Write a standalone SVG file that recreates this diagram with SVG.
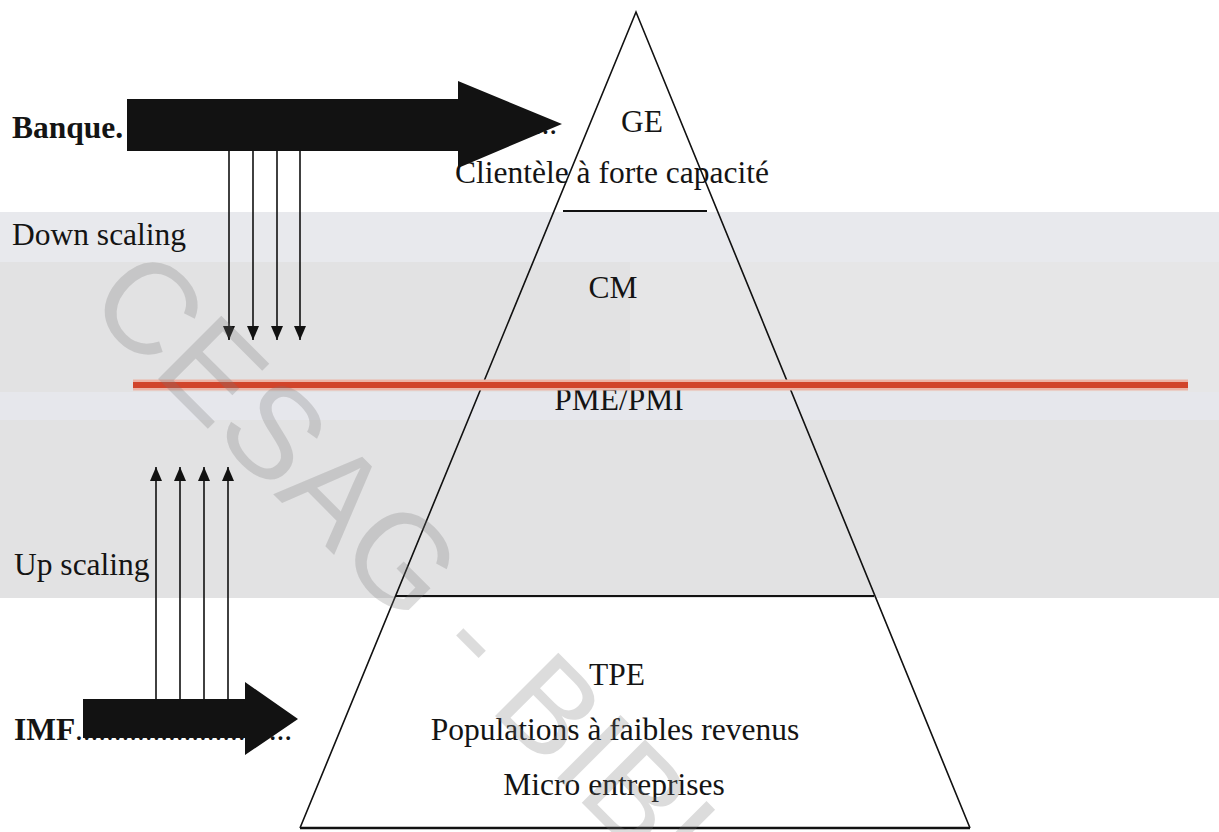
<svg xmlns="http://www.w3.org/2000/svg" width="1219" height="832" viewBox="0 0 1219 832">
<style>
.t{font-family:"Liberation Serif","Times New Roman",serif;font-size:31.5px;fill:#141414}
.b{font-weight:bold}
.thin{stroke:#111;stroke-width:1.6;fill:none}
.edge{stroke:#111;stroke-width:1.6;fill:none}
.big{fill:#121212}
.wm{font-family:"Liberation Sans",Arial,sans-serif;font-size:130px;fill:#787878;fill-opacity:0.26}
</style>
<defs>
<marker id="ah" viewBox="0 0 14 12" refX="14" refY="6" markerWidth="14" markerHeight="12" markerUnits="userSpaceOnUse" orient="auto">
<path d="M0,0 L14,6 L0,12 z" fill="#111"/>
</marker>
</defs>
<rect width="1219" height="832" fill="#ffffff"/>
<g id="band">
<rect x="0" y="212" width="1219" height="386" fill="#e2e2e3"/>
<rect x="0" y="212" width="1219" height="50" fill="#e8e9ed"/>
<rect x="630" y="262" width="589" height="130" fill="#e6e6e7"/>
<rect x="0" y="392" width="1219" height="28" fill="#e6e7ec"/>
</g>
<g id="pyramid">
<path class="edge" d="M300,828 L636,12 L970,828"/>
<line x1="300" y1="828" x2="970" y2="828" stroke="#111" stroke-width="2.6"/>
<line x1="563" y1="211" x2="707" y2="211" stroke="#111" stroke-width="1.8"/>
<line x1="396" y1="596" x2="874" y2="596" stroke="#111" stroke-width="1.8"/>
</g>
<g id="level-ge">
<text class="t" x="642" y="132" text-anchor="middle">GE</text>
<text class="t" x="612" y="183" text-anchor="middle">Clientèle à forte capacité</text>
</g>
<g id="level-cm">
<text class="t" x="613" y="298" text-anchor="middle">CM</text>
</g>
<g id="level-pme">
<text class="t" x="619" y="410" text-anchor="middle">PME/PMI</text>
</g>
<g id="level-tpe">
<text class="t" x="617" y="685" text-anchor="middle">TPE</text>
<text class="t" x="615" y="740" text-anchor="middle">Populations à faibles revenus</text>
<text class="t" x="614" y="795" text-anchor="middle">Micro entreprises</text>
</g>
<g id="threshold">
<line x1="133" y1="385" x2="1188" y2="385" stroke="#ecb3a6" stroke-width="11"/>
<line x1="133" y1="385" x2="1188" y2="385" stroke="#d1442b" stroke-width="6"/>
</g>
<g id="banque">
<text class="t b" x="12" y="138">Banque.</text>
<text class="t" x="130" y="134" textLength="427" lengthAdjust="spacing">........................................................</text>
</g>
<g id="imf">
<text class="t b" x="14" y="740">IMF</text>
<text class="t" x="75" y="740" textLength="217" lengthAdjust="spacing">............................</text>
</g>
<g id="down-scaling">
<text class="t" x="12" y="245">Down scaling</text>
</g>
<g id="up-scaling">
<text class="t" x="14" y="575">Up scaling</text>
</g>
<g id="connectors">
<polygon class="big" points="127,99 458,99 458,81 562,124 458,168 458,151 127,151"/>
<polygon class="big" points="83,699 245,699 245,682 298,719 245,755 245,738 83,738"/>
<line class="thin" x1="229" y1="151" x2="229" y2="340" marker-end="url(#ah)"/>
<line class="thin" x1="253" y1="151" x2="253" y2="340" marker-end="url(#ah)"/>
<line class="thin" x1="277" y1="151" x2="277" y2="340" marker-end="url(#ah)"/>
<line class="thin" x1="300" y1="151" x2="300" y2="340" marker-end="url(#ah)"/>
<line class="thin" x1="156" y1="699" x2="156" y2="467" marker-end="url(#ah)"/>
<line class="thin" x1="180" y1="699" x2="180" y2="467" marker-end="url(#ah)"/>
<line class="thin" x1="204" y1="699" x2="204" y2="467" marker-end="url(#ah)"/>
<line class="thin" x1="228" y1="699" x2="228" y2="467" marker-end="url(#ah)"/>
</g>
<g id="watermark">
<text class="wm" transform="translate(84,305) rotate(45)">CESAG - BIBLIOTHEQUE</text>
</g>
</svg>
